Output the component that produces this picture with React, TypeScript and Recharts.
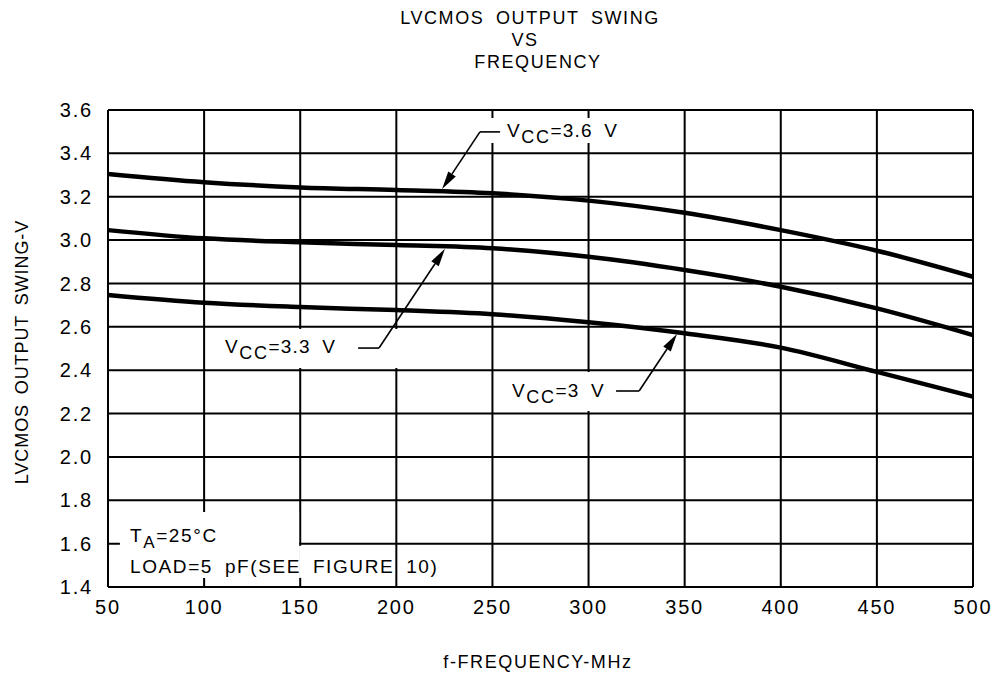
import {
  CartesianGrid,
  Line,
  LineChart,
  ReferenceArea,
  ReferenceLine,
  XAxis,
  YAxis,
} from "recharts";

// values (MHz / V)
const FREQ = [50, 100, 150, 200, 250, 300, 350, 400, 450, 500];
const VCC_36 = [3.305, 3.267, 3.243, 3.231, 3.216, 3.182, 3.126, 3.046, 2.951, 2.831];
const VCC_33 = [3.046, 3.008, 2.99, 2.977, 2.962, 2.923, 2.862, 2.785, 2.685, 2.562];
const VCC_30 = [2.747, 2.711, 2.691, 2.677, 2.658, 2.621, 2.57, 2.504, 2.392, 2.278];

const X_TICKS = [50, 100, 150, 200, 250, 300, 350, 400, 450, 500];
const Y_TICKS = [1.4, 1.6, 1.8, 2.0, 2.2, 2.4, 2.6, 2.8, 3.0, 3.2, 3.4, 3.6];

const W = 995;
const H = 673;
const FONT = "'Liberation Sans', Arial, sans-serif";

const data = FREQ.map((f, i) => ({
  f,
  v36: VCC_36[i],
  v33: VCC_33[i],
  v30: VCC_30[i],
}));

const txt = { fontFamily: FONT, fill: "#000", letterSpacing: 1.6, wordSpacing: 5 };
const tickStyle = { fontSize: 20, fill: "#000", fontFamily: FONT, letterSpacing: 1.8 };

// leader line ending in a filled arrow head
function Arrow(props: any) {
  const { x1, y1, x2, y2 } = props;
  const a = Math.atan2(y2 - y1, x2 - x1);
  const len = 18;
  const half = 4.5;
  const bx = x2 - len * Math.cos(a);
  const by = y2 - len * Math.sin(a);
  const px = -Math.sin(a) * half;
  const py = Math.cos(a) * half;
  return (
    <g>
      <line x1={x1} y1={y1} x2={bx} y2={by} stroke="#000" strokeWidth={1.6} />
      <polygon points={`${x2},${y2} ${bx + px},${by + py} ${bx - px},${by - py}`} fill="#000" />
    </g>
  );
}

function Vcc({ x, y, v }: { x: number; y: number; v: string }) {
  return (
    <text x={x} y={y} fontSize={19} style={txt}>
      V
      <tspan fontSize={18} dy={6}>CC</tspan>
      <tspan dy={-6} letterSpacing={1.2}>{`=${v} V`}</tspan>
    </text>
  );
}

export default function App() {
  return (
    <div style={{ position: "absolute", left: 0, top: 0, width: W, height: H, background: "#fff" }}>
      <LineChart width={W} height={H} data={data} margin={{ top: 110, right: 22, bottom: 56, left: 0 }}>
        <CartesianGrid stroke="#000" strokeWidth={2} strokeOpacity={1} />
        <XAxis
          dataKey="f"
          type="number"
          domain={[50, 500]}
          ticks={X_TICKS}
          height={30}
          axisLine={false}
          tickLine={false}
          tickSize={0}
          tickMargin={13}
          tick={tickStyle}
        />
        <YAxis
          type="number"
          domain={[1.4, 3.6]}
          ticks={Y_TICKS}
          width={108}
          axisLine={false}
          tickLine={false}
          tickSize={0}
          tickMargin={15}
          tickFormatter={(v: number) => v.toFixed(1)}
          tick={tickStyle}
        />
        {/* blanked grid behind the notes */}
        <ReferenceArea x1={56.2} x2={149.4} y1={1.442} y2={1.746} fill="#fff" fillOpacity={1} stroke="none" />
        <ReferenceArea x1={149.4} x2={152} y1={1.442} y2={1.59} fill="#fff" fillOpacity={1} stroke="none" />
        <ReferenceArea x1={248.8} x2={319} y1={3.448} y2={3.563} fill="#fff" fillOpacity={1} stroke="none" />
        <ReferenceArea x1={104.1} x2={202.9} y1={2.41} y2={2.59} fill="#fff" fillOpacity={1} stroke="none" />
        <ReferenceArea x1={254} x2={330.4} y1={2.212} y2={2.392} fill="#fff" fillOpacity={1} stroke="none" />

        <Line dataKey="v36" type="monotone" stroke="#000" strokeWidth={4.5} dot={false} isAnimationActive={false} />
        <Line dataKey="v33" type="monotone" stroke="#000" strokeWidth={4.5} dot={false} isAnimationActive={false} />
        <Line dataKey="v30" type="monotone" stroke="#000" strokeWidth={4.5} dot={false} isAnimationActive={false} />

        {/* leaders */}
        <ReferenceLine segment={[{ x: 254, y: 3.499 }, { x: 243.5, y: 3.499 }]} stroke="#000" strokeWidth={1.6} />
        <ReferenceLine segment={[{ x: 243.5, y: 3.499 }, { x: 223.8, y: 3.236 }]} shape={Arrow} />
        <ReferenceLine segment={[{ x: 180.1, y: 2.502 }, { x: 191, y: 2.502 }]} stroke="#000" strokeWidth={1.6} />
        <ReferenceLine segment={[{ x: 191, y: 2.502 }, { x: 225.3, y: 2.96 }]} shape={Arrow} />
        <ReferenceLine segment={[{ x: 314.3, y: 2.304 }, { x: 326.3, y: 2.304 }]} stroke="#000" strokeWidth={1.6} />
        <ReferenceLine segment={[{ x: 326.3, y: 2.304 }, { x: 346, y: 2.567 }]} shape={Arrow} />
      </LineChart>

      <svg width={W} height={H} style={{ position: "absolute", left: 0, top: 0, pointerEvents: "none" }}>
        <g fontSize={18} textAnchor="middle" style={txt}>
          <text x={530} y={24}>LVCMOS OUTPUT SWING</text>
          <text x={525} y={46}>VS</text>
          <text x={538} y={68}>FREQUENCY</text>
        </g>
        <text
          x={22}
          y={352}
          fontSize={18}
          textAnchor="middle"
          dominantBaseline="central"
          transform="rotate(-90 22 352)"
          style={{ ...txt, letterSpacing: 0.9, wordSpacing: 4 }}
        >
          LVCMOS OUTPUT SWING-V
        </text>
        <text x={538} y={668} fontSize={18} textAnchor="middle" style={txt}>
          f-FREQUENCY-MHz
        </text>

        <text x={130} y={542} fontSize={19} style={txt}>
          T<tspan fontSize={17} dy={6}>A</tspan>
          <tspan dy={-6}>=25°C</tspan>
        </text>
        <text x={130} y={573} fontSize={19} style={txt}>
          LOAD=5 pF(SEE FIGURE 10)
        </text>

        <Vcc x={507} y={137} v="3.6" />
        <Vcc x={225} y={353} v="3.3" />
        <Vcc x={512} y={397} v="3" />
      </svg>
    </div>
  );
}
